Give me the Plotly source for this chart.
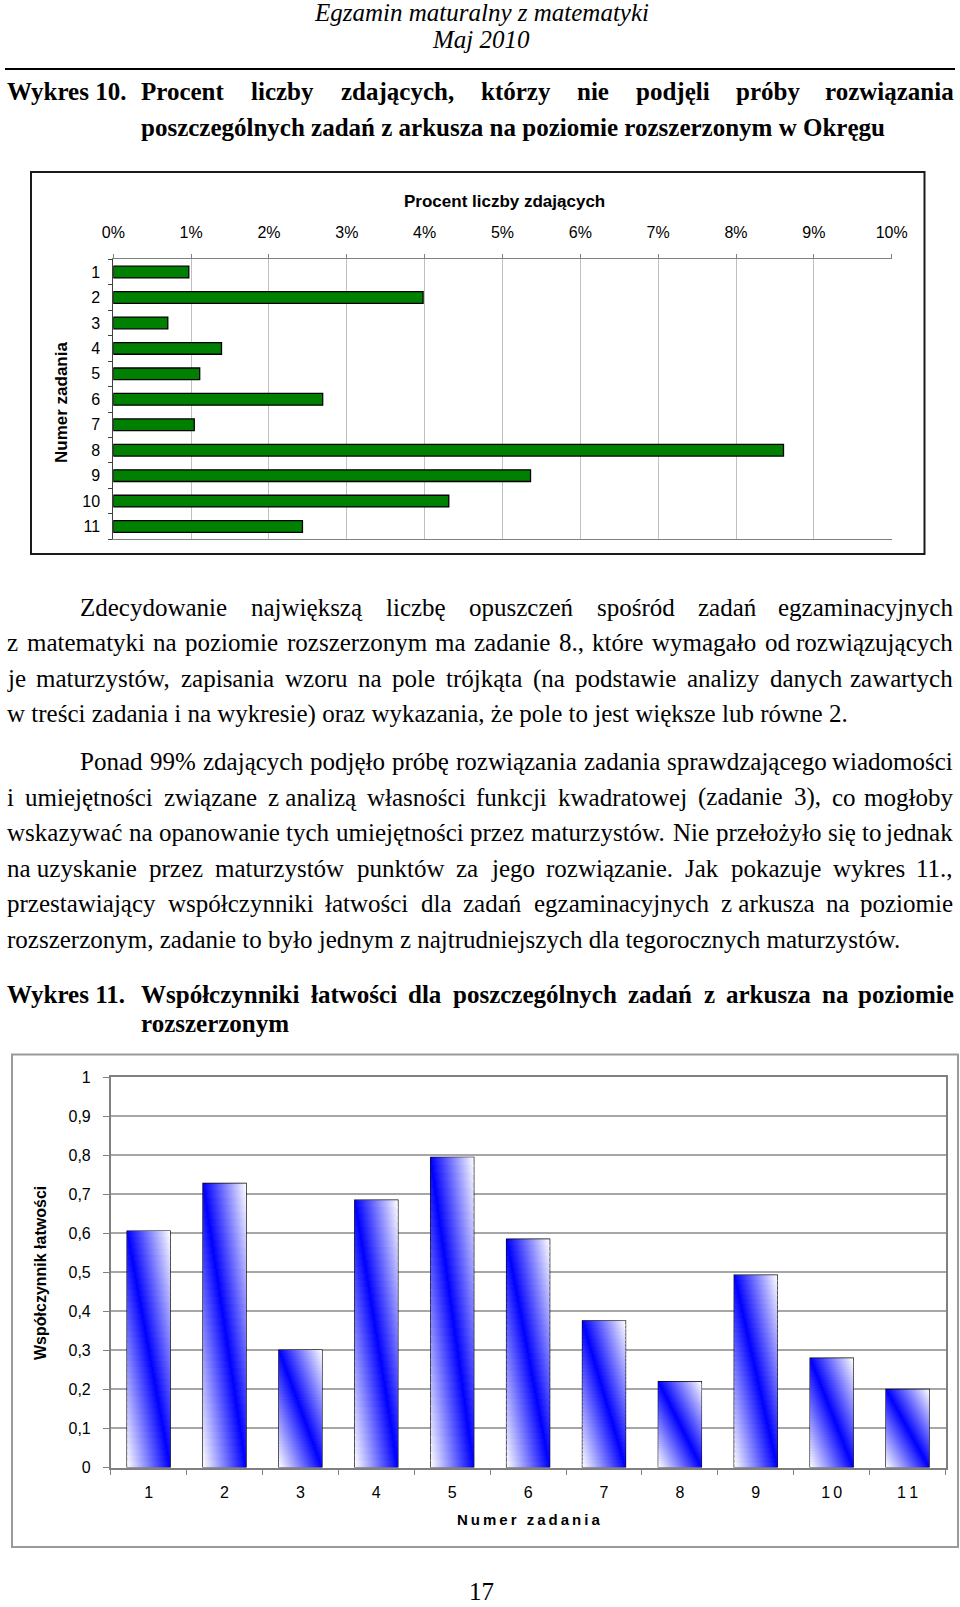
import plotly.graph_objects as go

W, H = 960, 1607

# ---------------- data ----------------
task_numbers = list(range(1, 12))
pct_skipped = [0.97, 3.98, 0.70, 1.39, 1.11, 2.69, 1.04, 8.61, 5.36, 4.31, 2.43]
easiness = [0.606, 0.728, 0.301, 0.685, 0.795, 0.585, 0.376, 0.22, 0.493, 0.28, 0.20]

pct_tickvals = list(range(0, 11))
pct_ticktext = ["0%", "1%", "2%", "3%", "4%", "5%", "6%", "7%", "8%", "9%", "10%"]
task_ticktext1 = ["1", "2", "3", "4", "5", "6", "7", "8", "9", "10", "11"]
easy_tickvals = [0, 0.1, 0.2, 0.3, 0.4, 0.5, 0.6, 0.7, 0.8, 0.9, 1.0]
easy_ticktext = ["0", "0,1", "0,2", "0,3", "0,4", "0,5", "0,6", "0,7", "0,8", "0,9", "1"]
task_ticktext2 = ["1", "2", "3", "4", "5", "6", "7", "8", "9", "1\u20090", "1\u20091"]

header_lines = ["Egzamin maturalny z matematyki", "Maj 2010"]
title10_label = "Wykres 10."
title10_lines = ["Procent liczby zdających, którzy nie podjęli próby rozwiązania",
                 "poszczególnych zadań z arkusza na poziomie rozszerzonym w Okręgu"]
chart1_title = "Procent liczby zdających"
chart1_ytitle = "Numer zadania"
para1 = ["Zdecydowanie największą liczbę opuszczeń spośród zadań egzaminacyjnych",
         "z matematyki na poziomie rozszerzonym ma zadanie 8., które wymagało od rozwiązujących",
         "je maturzystów, zapisania wzoru na pole trójkąta (na podstawie analizy danych zawartych",
         "w treści zadania i na wykresie) oraz wykazania, że pole to jest większe lub równe 2."]
para2 = ["Ponad 99% zdających podjęło próbę rozwiązania zadania sprawdzającego wiadomości",
         "i umiejętności związane z\u00a0analizą własności funkcji kwadratowej (zadanie 3), co mogłoby",
         "wskazywać na opanowanie tych umiejętności przez maturzystów. Nie przełożyło się to jednak",
         "na\u00a0uzyskanie przez maturzystów punktów za jego rozwiązanie. Jak pokazuje wykres 11.,",
         "przestawiający współczynniki łatwości dla zadań egzaminacyjnych z\u00a0arkusza na poziomie",
         "rozszerzonym, zadanie to było jednym z najtrudniejszych dla tegorocznych maturzystów."]
title11_label = "Wykres 11."
title11_lines = ["Współczynniki łatwości dla poszczególnych zadań z arkusza na poziomie",
                 "rozszerzonym"]
chart2_ytitle = "Współczynnik łatwości"
chart2_xtitle = "Numer zadania"
page_number = "17"

# ---------------- layout helpers ----------------
SERIF = "Liberation Serif"
SANS = "Liberation Sans, Arial, sans-serif"


def px(x):
    return x / W


def py(y):
    return 1 - y / H


REG = {' ': 250, '!': 333, '%': 833, '(': 333, ')': 333, ',': 250, '-': 333, '.': 250,
       ':': 278, ';': 278, '?': 444}
BOLD = {' ': 250, '!': 333, '%': 1000, '(': 333, ')': 333, ',': 250, '-': 333, '.': 250,
        ':': 333, ';': 333, '?': 500}
for d in "0123456789":
    REG[d] = 500
    BOLD[d] = 500
UP = "ABCDEFGHIJKLMNOPQRSTUVWXYZ"
LO = "abcdefghijklmnopqrstuvwxyz"
REG.update(zip(UP, [722, 667, 667, 722, 611, 556, 722, 722, 333, 389, 722, 611, 889, 722, 722,
                    556, 722, 667, 556, 611, 722, 722, 944, 722, 722, 611]))
REG.update(zip(LO, [444, 500, 444, 500, 444, 333, 500, 500, 278, 278, 500, 278, 778, 500, 500,
                    500, 500, 333, 389, 278, 500, 500, 722, 500, 500, 444]))
BOLD.update(zip(UP, [722, 667, 722, 722, 667, 611, 778, 778, 389, 500, 778, 667, 944, 722, 778,
                     611, 778, 722, 556, 667, 722, 722, 1000, 722, 722, 667]))
BOLD.update(zip(LO, [500, 556, 444, 556, 444, 333, 500, 556, 278, 333, 556, 278, 833, 556, 500,
                     556, 556, 444, 389, 333, 556, 500, 722, 500, 500, 444]))
PL = str.maketrans("ąćęłńóśźżĄĆĘŁŃÓŚŹŻ\u00a0", "acelnoszzACELNOSZZ ")


def text_width(s, bold, size):
    tbl = BOLD if bold else REG
    return sum(tbl.get(ch, 500) for ch in s.translate(PL)) / 1000.0 * size


annotations = []
shapes = []


def add_text(text, x, y, anchor="left", size=25, bold=False, italic=False, family=SERIF,
             angle=0, yanchor="middle"):
    t = text
    if bold:
        t = "<b>" + t + "</b>"
    if italic:
        t = "<i>" + t + "</i>"
    annotations.append(dict(text=t, x=px(x), y=py(y), xref="paper", yref="paper",
                            xanchor=anchor, yanchor=yanchor, showarrow=False,
                            borderpad=0, textangle=angle,
                            font=dict(family=family, size=size, color="black")))


def add_justified(text, left, right, y, size=25, bold=False):
    words = text.split(" ")
    widths = [text_width(w, bold, size) for w in words]
    gap = (right - left - sum(widths)) / (len(words) - 1)
    x = left
    for i, (w, wd) in enumerate(zip(words, widths)):
        if i == len(words) - 1:
            add_text(w, right, y, "right", size, bold)
        else:
            add_text(w, x, y, "left", size, bold)
        x += wd + gap


# ---------------- page text ----------------
add_text(header_lines[0], 481, 13, "center", 25, italic=True)
add_text(header_lines[1], 481, 40, "center", 25, italic=True)
shapes.append(dict(type="line", xref="paper", yref="paper", x0=px(5), x1=px(955),
                   y0=py(69), y1=py(69), line=dict(color="black", width=2)))

L, R, IND = 6, 954, 79
TL, TR = 140, 955
add_text(title10_label, 6, 92, "left", 25, bold=True)
add_justified(title10_lines[0], TL, TR, 92, bold=True)
add_text(title10_lines[1], TL, 127.5, "left", 25, bold=True)

p1_y = [607.5, 643, 678.5, 714]
p2_y = [761, 797, 832.5, 868, 903.5, 939]
for lines, ys in ((para1, p1_y), (para2, p2_y)):
    for i, (line, y) in enumerate(zip(lines, ys)):
        left = IND if i == 0 else L
        if i == len(lines) - 1:
            add_text(line, left, y, "left", 25)
        else:
            add_justified(line, left, R, y)

add_text(title11_label, 6, 994, "left", 25, bold=True)
add_justified(title11_lines[0], TL, TR, 994, bold=True)
add_text(title11_lines[1], TL, 1023, "left", 25, bold=True)
add_text(page_number, 481, 1606, "center", 25, yanchor="bottom")

# ---------------- chart frames ----------------
shapes.append(dict(type="rect", xref="paper", yref="paper", x0=px(31), x1=px(924.5),
                   y0=py(172), y1=py(554), line=dict(color="#1a1a1a", width=2), layer="below"))
shapes.append(dict(type="rect", xref="paper", yref="paper", x0=px(12), x1=px(958),
                   y0=py(1054.5), y1=py(1547), line=dict(color="#9a9a9a", width=2), layer="below"))

add_text(chart1_title, 504, 202, "center", 17, bold=True, family=SANS)
add_text(chart1_ytitle, 61.5, 402.5, "center", 17, bold=True, family=SANS, angle=-90)
add_text(chart2_ytitle, 40, 1273, "center", 16, bold=True, family=SANS, angle=-90)
add_text("\u2009".join(list(chart2_xtitle.replace(" ", "\u00a0"))), 528.5, 1519, "center", 15,
         bold=True, family=SANS)

P1 = dict(x0=113.3, x1=891.7, y0=259.3, y1=539.3)
P2 = dict(x0=110.7, x1=945.5, y0=1077.3, y1=1467.5)

fig = go.Figure()

fig.add_trace(go.Bar(x=pct_skipped, y=task_numbers, orientation="h", width=0.46,
                     marker=dict(color="#008000", line=dict(color="black", width=1.3)),
                     xaxis="x", yaxis="y", hoverinfo="skip", showlegend=False))

BW = 0.567
N = 40


def blend(d):
    d = min(max(d, 0.0), 1.0)
    c = int(round(255 * d))
    return f"rgb({c},{c},255)"


eps = 0.004
for xi, h in zip(task_numbers, easiness):
    xl, xr = xi - BW / 2, xi + BW / 2
    for k in range(N):
        ytop = h * (1 - k / N)
        ybot = max(0.0, h * (1 - (k + 1) / N) - eps)
        v = (k + 0.5) / N
        cs = [[0, blend(v)], [v, blend(0)], [1, blend(1 - v)]]
        fig.add_trace(go.Scatter(x=[xl, xr, xr, xl, xl], y=[ybot, ybot, ytop, ytop, ybot],
                                 mode="none", fill="toself",
                                 fillgradient=dict(type="horizontal", colorscale=cs,
                                                   start=xl, stop=xr),
                                 xaxis="x2", yaxis="y2", hoverinfo="skip", showlegend=False))

fig.add_trace(go.Bar(x=task_numbers, y=easiness, width=BW,
                     marker=dict(color="rgba(0,0,0,0)", line=dict(color="black", width=1.3)),
                     xaxis="x2", yaxis="y2", hoverinfo="skip", showlegend=False))

tickfont = dict(family=SANS, size=16, color="black")

fig.update_layout(
    width=W, height=H, autosize=False,
    margin=dict(l=0, r=0, t=0, b=0, pad=0, autoexpand=False),
    paper_bgcolor="white", plot_bgcolor="white", showlegend=False,
    annotations=annotations, shapes=shapes,
    xaxis=dict(domain=[px(P1["x0"]), px(P1["x1"])], anchor="y", side="top", automargin=False,
               range=[0, 10], tickvals=pct_tickvals, ticktext=pct_ticktext,
               showgrid=True, gridcolor="#c0c0c0", gridwidth=1, zeroline=False,
               showline=True, linecolor="#808080", linewidth=1, mirror=True,
               ticks="outside", ticklen=4, tickcolor="#808080", ticklabelstandoff=10,
               tickfont=tickfont, fixedrange=True),
    yaxis=dict(domain=[py(P1["y1"]), py(P1["y0"])], anchor="x", automargin=False,
               range=[11.5, 0.5], tickvals=task_numbers, ticktext=task_ticktext1,
               showgrid=False, zeroline=False, showline=True, linecolor="#404040", linewidth=1,
               ticks="", ticklabelstandoff=9,
               minor=dict(tickvals=[i + 0.5 for i in range(0, 12)], ticks="outside", ticklen=4,
                          tickcolor="#404040", showgrid=False),
               tickfont=tickfont, fixedrange=True),
    xaxis2=dict(domain=[px(P2["x0"]), px(P2["x1"])], anchor="y2", automargin=False,
                range=[0.5, 11.5], tickvals=task_numbers, ticktext=task_ticktext2,
                showgrid=False, zeroline=False, showline=True, linecolor="#808080", linewidth=1.5,
                mirror=True, ticks="", ticklabelstandoff=10,
                minor=dict(tickvals=[i + 0.5 for i in range(0, 12)], ticks="outside", ticklen=6,
                           tickcolor="#808080", showgrid=False),
                tickfont=tickfont, fixedrange=True),
    yaxis2=dict(domain=[py(P2["y1"]), py(P2["y0"])], anchor="x2", automargin=False,
                range=[0, 1], tickvals=easy_tickvals, ticktext=easy_ticktext,
                showgrid=True, gridcolor="#a6a6a6", gridwidth=1.5, zeroline=False,
                showline=True, linecolor="#808080", linewidth=1.5, mirror=True,
                ticks="outside", ticklen=6, tickcolor="#808080", ticklabelstandoff=9,
                tickfont=tickfont, fixedrange=True),
)

fig.write_html("out.html", post_script="document.body.style.margin='0';")
